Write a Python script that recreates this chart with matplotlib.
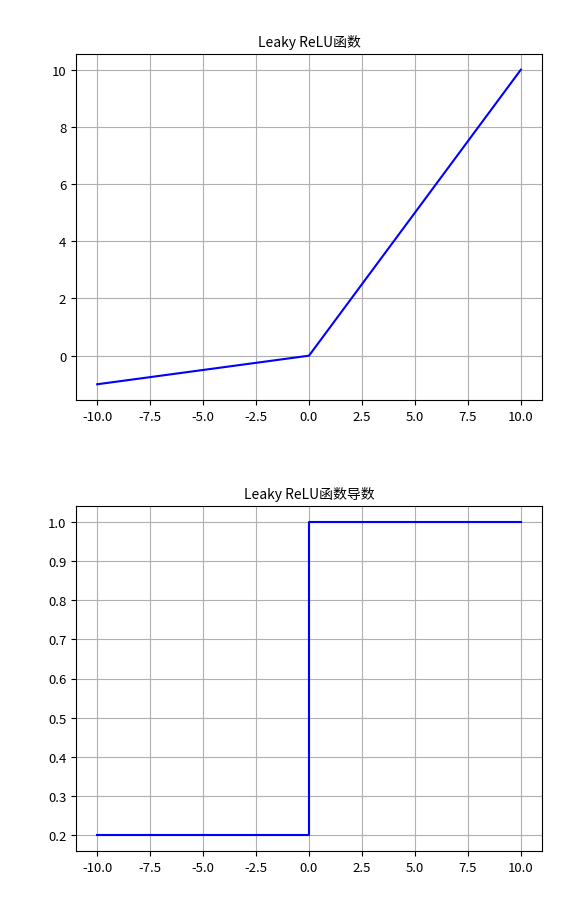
import matplotlib
matplotlib.use('Agg')
import matplotlib.pyplot as plt

plt.rcParams['font.family'] = ['Noto Sans CJK SC', 'DejaVu Sans']
plt.rcParams['axes.unicode_minus'] = False

# Leaky ReLU and its derivative
x_f = [-10, 0, 10]
y_f = [-1, 0, 10]
x_d = [-10, 0, 0, 10]
y_d = [0.2, 0.2, 1.0, 1.0]
xticks = [-10, -7.5, -5, -2.5, 0, 2.5, 5, 7.5, 10]

fig = plt.figure(figsize=(5.85, 9.03), dpi=100)
ax1 = fig.add_axes([76/585, 1 - 401/903, 466/585, 346/903])
ax2 = fig.add_axes([76/585, 1 - 852/903, 466/585, 345/903])

ax1.plot(x_f, y_f, color='blue')
ax1.set_title('Leaky ReLU函数', fontsize=10)
ax1.set_yticks([0, 2, 4, 6, 8, 10])

ax2.plot(x_d, y_d, color='blue')
ax2.set_title('Leaky ReLU函数导数', fontsize=10)
ax2.set_yticks([0.2, 0.3, 0.4, 0.5, 0.6, 0.7, 0.8, 0.9, 1.0])

for ax in (ax1, ax2):
    ax.set_xticks(xticks)
    ax.set_xticklabels(['%.1f' % v for v in xticks])
    ax.grid(True)
    ax.tick_params(labelsize=9.5)

fig.savefig('out.png', dpi=100)
